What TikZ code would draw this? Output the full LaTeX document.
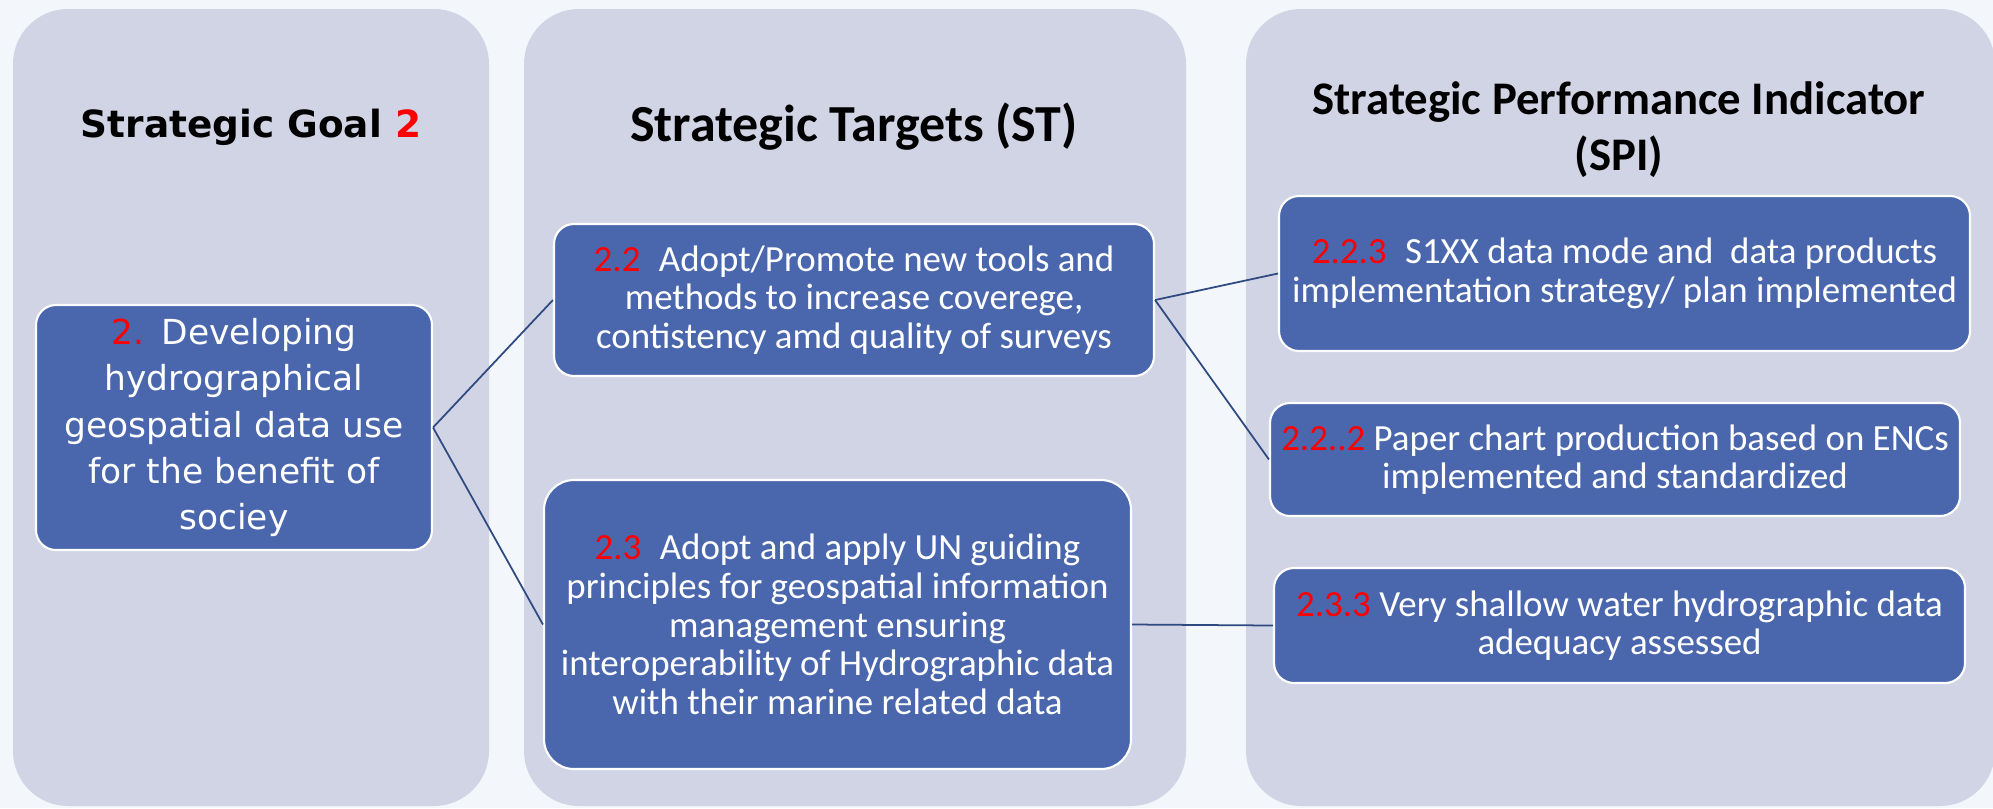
\documentclass[tikz,border=0pt]{standalone}
\usepackage{fontspec}
\setmainfont{Carlito}
\newfontfamily\goalfont{DejaVu Sans}
\definecolor{pagebg}{HTML}{F3F7FB}
\definecolor{panelfill}{HTML}{D1D4E4}
\definecolor{boxfill}{HTML}{4A67AD}
\definecolor{linkcol}{HTML}{2F4A80}
\definecolor{numred}{HTML}{FF0000}
\newcommand{\num}[1]{\textcolor{numred}{#1}}
\begin{document}
\begin{tikzpicture}[
    panel/.style={fill=panelfill, rounded corners=0.55cm},
    title/.style={align=center, inner sep=0pt, font=\bfseries\fontsize{13.3}{16}\selectfont},
    box/.style={draw=white, line width=0.6pt, fill=boxfill, rounded corners=0.2cm,
      text=white, align=center, inner sep=0pt, font=\fontsize{10.5}{11}\selectfont},
    link/.style={draw=linkcol, line width=0.5pt}]
                  \fill [pagebg] (0,0) rectangle (19.93,-8.08);
                  \useasboundingbox (0,0) rectangle (19.93,-8.08);
                  \fill [panel] (0.13,-0.09) rectangle (4.89,-8.06);
                  \fill [panel] (5.24,-0.09) rectangle (11.86,-8.06);
                  \fill [panel] (12.46,-0.09) rectangle (19.95,-8.06);
                  \node [title, font=\goalfont\bfseries\fontsize{10.65}{14}\selectfont] (goaltitle) at (2.51,-1.27) {Strategic Goal \num{2}};
                  \node [title, font=\bfseries\fontsize{14.8}{17}\selectfont] (sttitle) at (8.54,-1.27) {Strategic Targets (ST)};
                  \node [title] (spititle) at (16.19,-1.30) {Strategic Performance Indicator\\(SPI)};
                  \node [box, minimum width=3.96cm, minimum height=2.45cm, font=\goalfont\fontsize{9.8}{13.2}\selectfont] (goal) at (2.34,-4.275)
                    {\num{2.}\enspace Developing\\hydrographical\\geospatial data use\\for the benefit of\\sociey};
                  \node [box, minimum width=6.00cm, minimum height=1.52cm] (t22) at (8.54,-3.00)
                    {\num{2.2}\enspace Adopt/Promote new tools and\\methods to increase coverege,\\contistency amd quality of surveys};
                  \node [box, minimum width=5.87cm, minimum height=2.89cm, rounded corners=0.3cm] (t23) at (8.375,-6.245)
                    {\num{2.3}\enspace Adopt and apply UN guiding\\principles for geospatial information\\management ensuring\\interoperability of Hydrographic data\\with their marine related data};
                  \node [box, minimum width=6.91cm, minimum height=1.55cm] (i223) at (16.245,-2.735)
                    {\num{2.2.3}\enspace S1XX data mode and\ \ data products\\implementation strategy/ plan implemented};
                  \node [box, minimum width=6.90cm, minimum height=1.13cm] (i222) at (16.15,-4.595)
                    {\num{2.2..2} Paper chart production based on ENCs\\implemented and standardized};
                  \node [box, minimum width=6.91cm, minimum height=1.15cm] (i233) at (16.195,-6.255)
                    {\num{2.3.3} Very shallow water hydrographic data\\adequacy assessed};
                  \draw [link] (goal.east) -- (t22.west);
                  \draw [link] (goal.east) -- (t23.west);
                  \draw [link] (t22.east) -- (i223.west);
                  \draw [link] (t22.east) -- (i222.west);
                  \draw [link] (t23.east) -- (i233.west);
\end{tikzpicture}
\end{document}
